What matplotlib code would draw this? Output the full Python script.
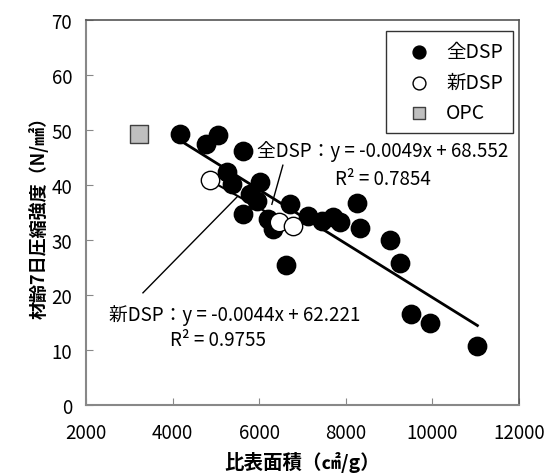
import numpy as np
import matplotlib
matplotlib.use("Agg")
import matplotlib.pyplot as plt

plt.rcParams['font.family'] = ['Noto Sans CJK JP', 'DejaVu Sans']

# 全DSP data (specific surface area cm2/g, 7-day strength N/mm2)
zen_x = [4169, 5053, 4769, 5616, 5247, 5363, 6016, 5785, 5940, 5616,
         6708, 6207, 6323, 6616, 7131, 7440, 7708, 7862, 8248, 8324,
         9032, 9263, 9517, 9940, 11040]
zen_y = [49.3, 49.1, 47.4, 46.2, 42.4, 40.2, 40.6, 38.4, 37.1, 34.7,
         36.5, 33.8, 32.0, 25.5, 34.3, 33.5, 34.1, 33.2, 36.7, 32.1,
         30.0, 25.9, 16.5, 14.9, 10.8]

# 新DSP data
shin_x = [4862, 6450, 6785]
shin_y = [41.0, 33.3, 32.5]

# OPC
opc_x = [3231]
opc_y = [49.3]

# trendline coefficients shown in the chart
zen_fit = (-0.0049, 68.552)
shin_fit = (-0.0044, 62.221)

fig = plt.figure(figsize=(5.49, 4.77), dpi=100)
ax = fig.add_axes([0.1566, 0.1488, 0.7887, 0.8071])

# trendlines
xx = np.array([min(zen_x), max(zen_x)])
ax.plot(xx, zen_fit[0] * xx + zen_fit[1], color='black', lw=2, zorder=2)
xs = np.array([min(shin_x), max(shin_x)])
ax.plot(xs, shin_fit[0] * xs + shin_fit[1], color='black', lw=1.5, zorder=2)

ax.scatter(zen_x, zen_y, s=175, color='black', zorder=3, label='全DSP')
ax.scatter(shin_x, shin_y, s=175, facecolor='white', edgecolor='black',
           lw=1, zorder=4, label='新DSP')
ax.scatter(opc_x, opc_y, s=150, marker='s', facecolor='#bfbfbf',
           edgecolor='#404040', lw=1, zorder=3, label='OPC')

ax.set_xlim(2000, 12000)
ax.set_ylim(0, 70)
ax.set_xticks(range(2000, 12001, 2000))
ax.set_yticks(range(0, 71, 10))
ax.tick_params(direction='in', length=5, color='#888888', labelsize=13.5)
ax.tick_params(axis='x', pad=12)
ax.tick_params(axis='y', pad=10)
for s in ['left', 'bottom']:
    ax.spines[s].set_color('#888888')
    ax.spines[s].set_linewidth(1.5)
for s in ['top', 'right']:
    ax.spines[s].set_color('#555555')
    ax.spines[s].set_linewidth(1.2)

ax.set_xlabel('比表面積（㎠/g）', fontsize=14, fontweight='bold', labelpad=6)
ax.set_ylabel('材齢7日圧縮強度（N/㎟）', fontsize=13, fontweight='bold', labelpad=2)

# equation labels
ax.text(8850, 46.2, '全DSP：y = -0.0049x + 68.552', fontsize=13.5, ha='center', va='center')
ax.text(8850, 41.1, 'R² = 0.7854', fontsize=13.5, ha='center', va='center')
ax.plot([6547, 6293], [43.6, 36.5], color='black', lw=1)

ax.text(5440, 16.4, '新DSP：y = -0.0044x + 62.221', fontsize=13.5, ha='center', va='center')
ax.text(5050, 12.0, 'R² = 0.9755', fontsize=13.5, ha='center', va='center')
ax.plot([3316, 5485], [20.4, 37.8], color='black', lw=1)

leg = ax.legend(loc='upper right', bbox_to_anchor=(0.986, 0.971), fontsize=14,
                frameon=True, fancybox=False, edgecolor='black',
                handletextpad=0.2, borderpad=0.5, labelspacing=0.5,
                handlelength=2.4, borderaxespad=0, markerscale=0.7)
leg.get_frame().set_linewidth(1)

fig.savefig('out.png', dpi=100)
